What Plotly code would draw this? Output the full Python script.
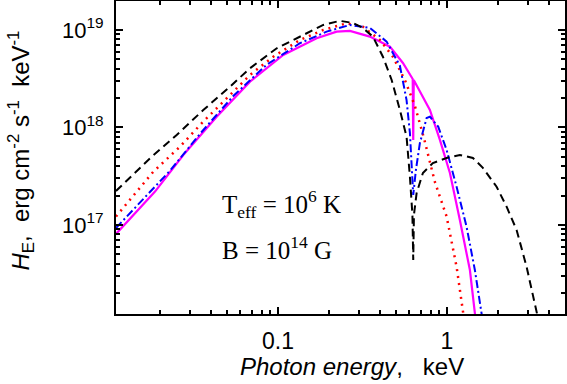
import plotly.graph_objects as go

# photon energy (keV) and H_E (erg cm^-2 s^-1 keV^-1)
e_black = [0.011, 0.01748, 0.02515, 0.03614, 0.0520, 0.0683, 0.0984, 0.129, 0.1854, 0.2327, 0.278, 0.318,
           0.365, 0.418, 0.471, 0.527, 0.577, 0.604, 0.625, 0.632, 0.638, 0.662, 0.721, 0.826, 0.996,
           1.194, 1.425, 1.633, 1.968, 2.256, 2.585, 2.962, 3.395, 3.55]
h_black = [2.23e17, 4.83e17, 8.38e17, 1.51e18, 2.62e18, 4.05e18, 6.49e18, 8.22e18, 1.125e19, 1.24e19, 1.18e19, 1.05e19,
           8.53e18, 5.32e18, 3.07e18, 1.51e18, 8.05e17, 3.13e17, 1.27e17, 4.38e16, 1.27e17, 2.13e17, 3.41e17, 4.32e17, 4.87e17,
           5.22e17, 4.87e17, 3.85e17, 2.47e17, 1.54e17, 8.89e16, 3.73e16, 1.29e16, 9.1e15]

e_red = [0.011, 0.01829, 0.0263, 0.03614, 0.0520, 0.0683, 0.0938, 0.1349, 0.1854, 0.255, 0.318, 0.4015,
         0.479, 0.564, 0.6466, 0.731, 0.849, 0.996, 1.141, 1.243, 1.278]
h_red = [1.22e17, 3.52e17, 6.35e17, 1.15e18, 2.15e18, 3.46e18, 5.32e18, 7.9e18, 1.0e19, 1.17e19, 1.08e19, 7.9e18,
         5.32e18, 3.07e18, 1.66e18, 7.8e17, 2.76e17, 1.22e17, 3.73e16, 1.29e16, 9.4e15]

e_blue = [0.011, 0.02296, 0.03455, 0.05438, 0.0857, 0.1349, 0.1941, 0.2667, 0.350, 0.4397, 0.527,
          0.577, 0.604, 0.618, 0.632, 0.6554, 0.692, 0.7585, 0.793, 0.888, 0.996, 1.141, 1.307,
          1.464, 1.604, 1.633]
h_blue = [9.32e16, 3.6e17, 8.6e17, 2.1e18, 4.4e18, 7.31e18, 9.61e18, 1.125e19, 1.05e19, 7.59e18, 4.3e18,
          1.91e18, 8.79e17, 4.64e17, 2.03e17, 3.66e17, 6.93e17, 1.25e18, 1.29e18, 1.02e18, 5.88e17, 2.47e17, 9.61e16,
          3.45e16, 1.25e16, 1.01e16]

e_mag = [0.011, 0.01872, 0.02752, 0.04338, 0.0683, 0.1075, 0.1694, 0.2225, 0.2667, 0.350, 0.46, 0.549,
         0.6275, 0.632, 0.6364, 0.793, 0.909, 1.042, 1.194, 1.368, 1.464, 1.494]
h_mag = [8.09e16, 2.20e17, 5.22e17, 1.29e18, 2.95e18, 5.54e18, 8.22e18, 9.61e18, 9.77e18, 8.54e18, 6.74e18, 4.59e18,
         3.14e18, 7.45e17, 3.07e18, 1.51e18, 7.45e17, 3.41e17, 1.12e17, 3.45e16, 1.25e16, 9.4e15]

x_tickvals = [0.1, 1]
x_ticktext = ["0.1", "1"]
y_tickvals = [1e17, 1e18, 1e19]
y_ticktext = ["10<sup>17</sup>", "10<sup>18</sup>", "10<sup>19</sup>"]

fig = go.Figure()
fig.add_trace(go.Scatter(x=e_mag, y=h_mag, mode="lines", line=dict(color="#ff00ff", width=2.2)))
fig.add_trace(go.Scatter(x=e_red, y=h_red, mode="lines", line=dict(color="#ff0000", width=2.5, dash="2px,5px")))
fig.add_trace(go.Scatter(x=e_blue, y=h_blue, mode="lines", line=dict(color="#0000ff", width=2, dash="8px,3px,2px,3px")))
fig.add_trace(go.Scatter(x=e_black, y=h_black, mode="lines", line=dict(color="black", width=2, dash="8px,5px")))

x_minor = [0.02, 0.03, 0.04, 0.05, 0.06, 0.07, 0.08, 0.09, 0.2, 0.3, 0.4, 0.5, 0.6, 0.7, 0.8, 0.9, 2, 3, 4]
y_minor = [m * 10 ** p for p in (16, 17, 18) for m in range(2, 10)] + [2e19]

fig.update_xaxes(type="log", range=[-1.9586, 0.699], showline=True, linewidth=2, linecolor="black",
                 mirror="allticks", ticks="inside", ticklen=7, tickwidth=1.5, tickcolor="black",
                 tickmode="array", tickvals=x_tickvals, ticktext=x_ticktext, showgrid=False, zeroline=False,
                 minor=dict(tickmode="array", tickvals=x_minor, ticks="inside", ticklen=4, tickcolor="black", showgrid=False),
                 tickfont=dict(family="Liberation Sans", size=23, color="black"), ticklabelstandoff=5,
                 automargin=False)
fig.update_yaxes(type="log", range=[16.087, 19.297], showline=True, linewidth=2, linecolor="black",
                 mirror="allticks", ticks="inside", ticklen=7, tickwidth=1.5, tickcolor="black",
                 tickmode="array", tickvals=y_tickvals, ticktext=y_ticktext, showgrid=False, zeroline=False,
                 minor=dict(tickmode="array", tickvals=y_minor, ticks="inside", ticklen=4, tickcolor="black", showgrid=False),
                 tickfont=dict(family="Liberation Sans", size=22, color="black"), ticklabelstandoff=6,
                 automargin=False)

fig.add_annotation(text="<i>Photon energy</i>,   keV", xref="paper", yref="paper", x=0.525, y=-0.118,
                   xanchor="center", yanchor="top", showarrow=False,
                   font=dict(family="Liberation Sans", size=24, color="black"))
fig.add_annotation(text="<i>H</i><sub>E</sub>,  erg cm<sup>-2</sup> s<sup>-1</sup>  keV<sup>-1</sup>",
                   xref="paper", yref="paper", x=-0.2116, y=0.522, textangle=-90,
                   xanchor="center", yanchor="middle", showarrow=False,
                   font=dict(family="Liberation Sans", size=24, color="black"))
fig.add_annotation(text="T<sub>eff</sub> = 10<sup>6</sup> K", xref="paper", yref="paper", x=0.231, y=0.35,
                   xanchor="left", yanchor="middle", showarrow=False,
                   font=dict(family="Liberation Serif", size=25, color="black"))
fig.add_annotation(text="B = 10<sup>14</sup> G", xref="paper", yref="paper", x=0.231, y=0.211,
                   xanchor="left", yanchor="middle", showarrow=False,
                   font=dict(family="Liberation Serif", size=25, color="black"))

fig.update_layout(width=567, height=384, margin=dict(l=116, r=2, t=1, b=70),
                  paper_bgcolor="white", plot_bgcolor="white", showlegend=False)

fig.write_html("out.html", config={"displayModeBar": False},
               post_script="document.body.style.margin='0';document.body.style.overflow='hidden';")
